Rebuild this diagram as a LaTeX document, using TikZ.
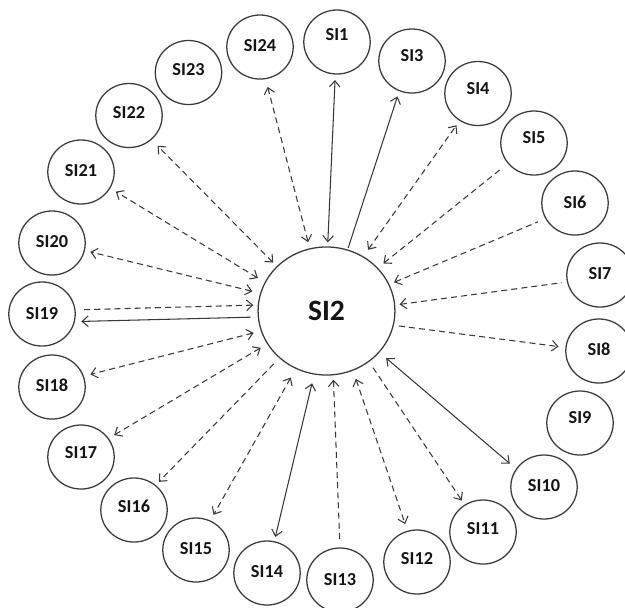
\documentclass[tikz,border=0pt]{standalone}
\usepackage{fontspec}
\setmainfont{Carlito}
\usetikzlibrary{shapes.geometric,arrows.meta}
\definecolor{circ}{HTML}{3A3A3A}
\definecolor{conn}{HTML}{383838}
\definecolor{txt}{HTML}{141414}
\begin{document}
\begin{tikzpicture}[x=0.025cm,y=-0.025cm,
  sml/.style={ellipse,draw=circ,line width=0.9pt,minimum width=1.66cm,minimum height=1.6cm,inner sep=0pt,text=txt,font=\fontsize{13}{15}\selectfont\bfseries},
  big/.style={ellipse,draw=circ,line width=0.9pt,minimum width=3.42cm,minimum height=3.2cm,inner sep=0pt,text=txt,font=\fontsize{21}{24}\selectfont\bfseries},
  ts/.style={text depth=#1},
  cn/.style={draw=conn,line width=0.75pt,>={Straight Barb[length=4.3pt,width=7.5pt]}},
  dl/.style={cn,dash pattern=on 4.3pt off 2.9pt},
  sl/.style={cn},
  g/.style 2 args={shorten <=#1,shorten >=#2}]
\useasboundingbox (0,0) rectangle (625,607);
\node[big] (si2) at (326.5,311) {SI2};
\node[sml,ts=10pt] (si1) at (337,42) {SI1};
\node[sml,ts=8.5pt] (si3) at (412,61) {SI3};
\node[sml,ts=6.4pt] (si4) at (478,93.5) {SI4};
\node[sml,ts=8.5pt] (si5) at (534,143) {SI5};
\node[sml,ts=1.4pt] (si6) at (575,203) {SI6};
\node[sml,ts=2.8pt] (si7) at (600,275) {SI7};
\node[sml,ts=2.8pt] (si8) at (599,351) {SI8};
\node[sml,ts=8.5pt] (si9) at (580,423) {SI9};
\node[sml,ts=2.8pt] (si10) at (544,487) {SI10};
\node[sml,ts=4.3pt] (si11) at (483,532) {SI11};
\node[sml,ts=4.3pt] (si12) at (417,562) {SI12};
\node[sml] (si13) at (340,580) {SI13};
\node[sml,ts=2.8pt] (si14) at (267,573) {SI14};
\node[sml,ts=2.8pt] (si15) at (196,550) {SI15};
\node[sml,ts=5.7pt] (si16) at (134,510) {SI16};
\node[sml,ts=5.7pt] (si17) at (81,457) {SI17};
\node[sml,ts=2.8pt] (si18) at (52,387) {SI18};
\node[sml] (si19) at (42,314) {SI19};
\node[sml,ts=2.8pt] (si20) at (52,243) {SI20};
\node[sml,ts=2.8pt] (si21) at (81,172) {SI21};
\node[sml,ts=3.6pt] (si22) at (129,115.5) {SI22};
\node[sml,ts=3.6pt] (si23) at (188.5,72.5) {SI23};
\node[sml,ts=2.8pt] (si24) at (260,47) {SI24};
% connectors
\draw[sl,<->,g={2.8pt}{3.9pt}] (si2.89) -- (si1.-93);
\draw[dl,<->,g={4.5pt}{5.7pt}] (si2.105.5) -- (si24.-80);
\draw[sl,->,g={1.1pt}{3.9pt}] (si2.71.7) -- (si3.-113);
\draw[dl,<->,g={5.7pt}{3.8pt}] (si2.56.3) -- (si4.-124);
\draw[dl,<-,g={5pt}{5.7pt}] (si2.40.9) -- (si5.-142);
\draw[dl,<-,g={3.6pt}{5.7pt}] (si2.23.8) -- (si6.-152);
\draw[dl,<-,g={3.1pt}{3.6pt}] (si2.5.9) -- (si7.-168);
\draw[dl,->,g={3.6pt}{4.8pt}] (si2.-12.1) -- (si8.174);
\draw[sl,<->,g={6.2pt}{5.7pt}] (si2.-38.8) -- (si10.147);
\draw[dl,->,g={5pt}{3.6pt}] (si2.-50.8) -- (si11.124);
\draw[dl,<->,g={6.2pt}{5pt}] (si2.-66) -- (si12.107.5);
\draw[dl,<-,g={3.1pt}{4.6pt}] (si2.-84) -- (si13.90);
\draw[sl,<->,g={6.4pt}{3.1pt}] (si2.-101) -- (si14.77.5);
\draw[dl,<->,g={7.1pt}{4.6pt}] (si2.-118.4) -- (si15.64);
\draw[dl,->,g={5.7pt}{3.1pt}] (si2.-135.3) -- (si16.49.4);
\draw[dl,<->,g={5.3pt}{4.5pt}] (si2.-151) -- (si17.34.5);
\draw[dl,<->,g={5.3pt}{4.8pt}] (si2.-163.6) -- (si18.19.4);
\draw[dl,<-,g={3.1pt}{5.5pt}] (si2.175) -- (si19.7);
\draw[sl,->,g={5.1pt}{4.6pt}] (si2.-175.9) -- (si19.-13.3);
\draw[dl,<->,g={5.7pt}{4pt}] (si2.165.2) -- (si20.-13.7);
\draw[dl,<->,g={5.7pt}{4.6pt}] (si2.155.5) -- (si21.-29.2);
\draw[dl,<->,g={3.6pt}{6pt}] (si2.138.7) -- (si22.-47.4);
\end{tikzpicture}
\end{document}
